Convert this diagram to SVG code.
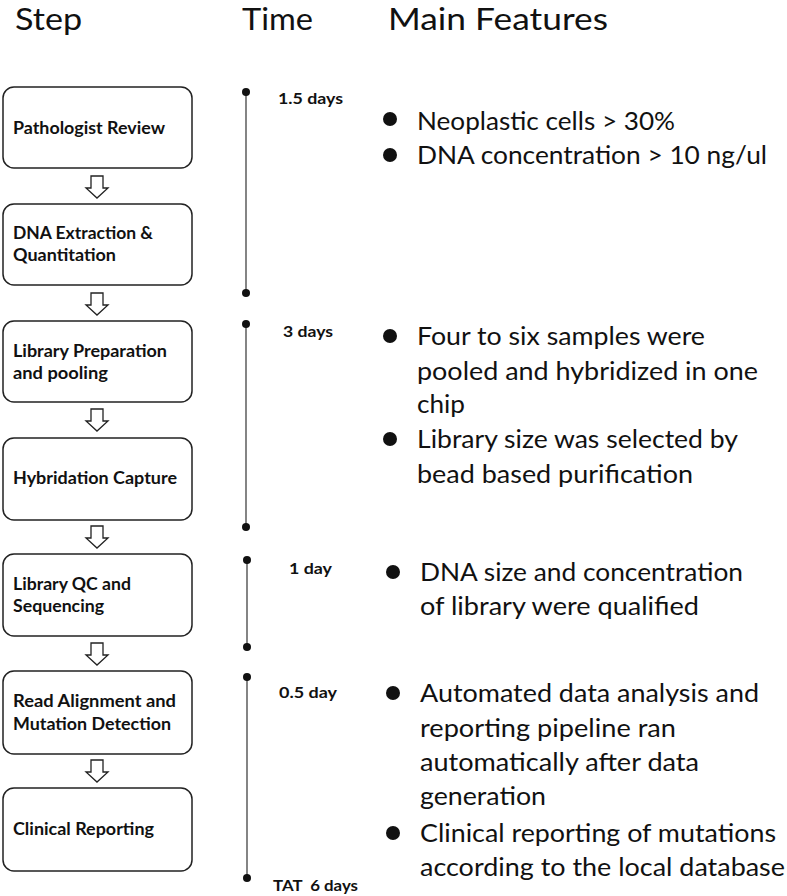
<svg xmlns="http://www.w3.org/2000/svg" width="787" height="896" viewBox="0 0 787 896">
<defs>
<style>
.hdr{font-family:Lato,"Open Sans","Liberation Sans",sans-serif;font-size:30px;fill:#111}
.box{fill:#fff;stroke:#222;stroke-width:1.5}
.lbl{font-family:Lato,"Open Sans","Liberation Sans",sans-serif;font-size:16.5px;font-weight:bold;fill:#111}
.tm{font-family:Lato,"Open Sans","Liberation Sans",sans-serif;font-size:15px;font-weight:bold;fill:#111;white-space:pre}
.ft{font-family:Lato,"Open Sans","Liberation Sans",sans-serif;font-size:25px;fill:#111}
.arr{fill:#fff;stroke:#222;stroke-width:1.3;stroke-linejoin:miter}
.tl{stroke:#333;stroke-width:1.2}
.dot{fill:#111}
</style>
<path id="ar" d="M-6,0 H6 V12 H11 L0,22 L-11,12 H-6 Z"/>
</defs>
<rect width="787" height="896" fill="#fff"/>
<g id="headers">
<text class="hdr" x="15" y="30" textLength="67" lengthAdjust="spacingAndGlyphs">Step</text>
<text class="hdr" x="242" y="30" textLength="71" lengthAdjust="spacingAndGlyphs">Time</text>
<text class="hdr" x="388" y="30" textLength="220" lengthAdjust="spacingAndGlyphs">Main Features</text>
</g>
<g id="n1"><rect class="box" x="3" y="87" width="189" height="81" rx="11"/><text class="lbl" x="13" y="134" textLength="152" lengthAdjust="spacingAndGlyphs">Pathologist Review</text></g>
<g id="n2"><rect class="box" x="3" y="204" width="189" height="81" rx="11"/><text class="lbl" x="13" y="239" textLength="140" lengthAdjust="spacingAndGlyphs">DNA Extraction &amp;</text><text class="lbl" x="13" y="261" textLength="103" lengthAdjust="spacingAndGlyphs">Quantitation</text></g>
<g id="n3"><rect class="box" x="3" y="321" width="189" height="81" rx="11"/><text class="lbl" x="13" y="357" textLength="154" lengthAdjust="spacingAndGlyphs">Library Preparation</text><text class="lbl" x="13" y="379" textLength="95" lengthAdjust="spacingAndGlyphs">and pooling</text></g>
<g id="n4"><rect class="box" x="3" y="438" width="189" height="82" rx="11"/><text class="lbl" x="13" y="484" textLength="164" lengthAdjust="spacingAndGlyphs">Hybridation Capture</text></g>
<g id="n5"><rect class="box" x="3" y="554" width="189" height="82" rx="11"/><text class="lbl" x="13" y="590" textLength="118" lengthAdjust="spacingAndGlyphs">Library QC and</text><text class="lbl" x="13" y="612" textLength="91" lengthAdjust="spacingAndGlyphs">Sequencing</text></g>
<g id="n6"><rect class="box" x="3" y="671" width="189" height="83" rx="11"/><text class="lbl" x="13" y="707" textLength="163" lengthAdjust="spacingAndGlyphs">Read Alignment and</text><text class="lbl" x="13" y="730" textLength="158" lengthAdjust="spacingAndGlyphs">Mutation Detection</text></g>
<g id="n7"><rect class="box" x="3" y="788" width="189" height="83" rx="11"/><text class="lbl" x="13" y="835" textLength="141" lengthAdjust="spacingAndGlyphs">Clinical Reporting</text></g>
<g id="connectors">
<use href="#ar" class="arr" x="97" y="176"/>
<use href="#ar" class="arr" x="97" y="293"/>
<use href="#ar" class="arr" x="97" y="409"/>
<use href="#ar" class="arr" x="97" y="526"/>
<use href="#ar" class="arr" x="97" y="643"/>
<use href="#ar" class="arr" x="97" y="760"/>
</g>
<g id="timeline">
<line class="tl" x1="246" y1="92" x2="246" y2="293"/><circle class="dot" cx="246" cy="92" r="4"/><circle class="dot" cx="246" cy="293" r="4"/>
<line class="tl" x1="246" y1="324" x2="246" y2="527"/><circle class="dot" cx="246" cy="324" r="4"/><circle class="dot" cx="246" cy="527" r="4"/>
<line class="tl" x1="247" y1="560" x2="247" y2="647"/><circle class="dot" cx="247" cy="560" r="4"/><circle class="dot" cx="247" cy="647" r="4"/>
<line class="tl" x1="247" y1="677" x2="247" y2="878"/><circle class="dot" cx="247" cy="677" r="4"/><circle class="dot" cx="247" cy="878" r="4"/>
<text class="tm" x="278" y="104" textLength="65" lengthAdjust="spacingAndGlyphs">1.5 days</text>
<text class="tm" x="283" y="337" textLength="50" lengthAdjust="spacingAndGlyphs">3 days</text>
<text class="tm" x="289" y="574" textLength="43" lengthAdjust="spacingAndGlyphs">1 day</text>
<text class="tm" x="279" y="698" textLength="58" lengthAdjust="spacingAndGlyphs">0.5 day</text>
<text class="tm" x="273" y="891" xml:space="preserve" textLength="85" lengthAdjust="spacingAndGlyphs">TAT  6 days</text>
</g>
<g id="features">
<circle class="dot" cx="390" cy="119" r="7"/><text class="ft" x="417" y="130" textLength="258" lengthAdjust="spacingAndGlyphs">Neoplastic cells &gt; 30%</text>
<circle class="dot" cx="390" cy="155" r="7"/><text class="ft" x="417" y="164" textLength="350" lengthAdjust="spacingAndGlyphs">DNA concentration &gt; 10 ng/ul</text>
<circle class="dot" cx="390" cy="336" r="7"/><text class="ft" x="417" y="345" textLength="288" lengthAdjust="spacingAndGlyphs">Four to six samples were</text>
<text class="ft" x="417" y="380" textLength="341" lengthAdjust="spacingAndGlyphs">pooled and hybridized in one</text>
<text class="ft" x="417" y="413" textLength="48" lengthAdjust="spacingAndGlyphs">chip</text>
<circle class="dot" cx="390" cy="439" r="7"/><text class="ft" x="417" y="448" textLength="321" lengthAdjust="spacingAndGlyphs">Library size was selected by</text>
<text class="ft" x="417" y="483" textLength="276" lengthAdjust="spacingAndGlyphs">bead based purification</text>
<circle class="dot" cx="393" cy="572" r="7"/><text class="ft" x="420" y="581" textLength="323" lengthAdjust="spacingAndGlyphs">DNA size and concentration</text>
<text class="ft" x="420" y="615" textLength="279" lengthAdjust="spacingAndGlyphs">of library were qualified</text>
<circle class="dot" cx="393" cy="693" r="7"/><text class="ft" x="420" y="702" textLength="339" lengthAdjust="spacingAndGlyphs">Automated data analysis and</text>
<text class="ft" x="420" y="737" textLength="256" lengthAdjust="spacingAndGlyphs">reporting pipeline ran</text>
<text class="ft" x="420" y="771" textLength="279" lengthAdjust="spacingAndGlyphs">automatically after data</text>
<text class="ft" x="420" y="805" textLength="126" lengthAdjust="spacingAndGlyphs">generation</text>
<circle class="dot" cx="393" cy="833" r="7"/><text class="ft" x="420" y="842" textLength="356" lengthAdjust="spacingAndGlyphs">Clinical reporting of mutations</text>
<text class="ft" x="420" y="876" textLength="365" lengthAdjust="spacingAndGlyphs">according to the local database</text>
</g>
</svg>
